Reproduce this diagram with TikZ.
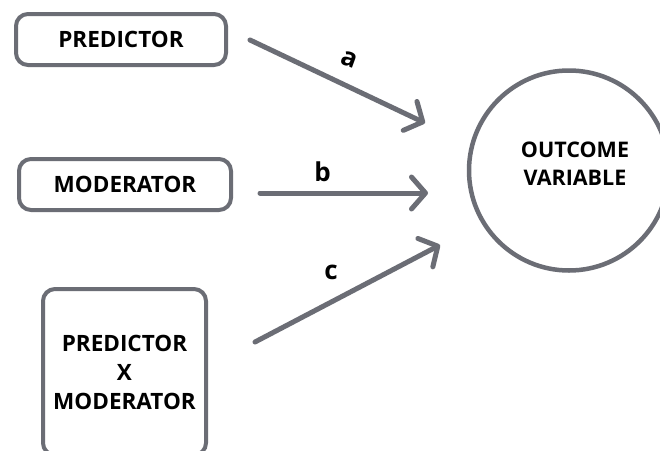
\documentclass[tikz,border=0pt]{standalone}
\usepackage{fontspec}
\setmainfont{Open Sans}
\usetikzlibrary{arrows.meta}
\definecolor{edgegray}{HTML}{6B6D75}
\tikzset{
  boxnode/.style={draw=edgegray, line width=4pt, rounded corners=12pt, fill=white, align=center, font=\fontsize{22.5}{29}\selectfont\bfseries, inner sep=0pt},
  outcomenode/.style={draw=edgegray, line width=4.5pt, circle, fill=white, inner sep=0pt, minimum size=200pt},
  outcometext/.style={align=center, font=\fontsize{21.5}{28}\selectfont\bfseries, inner sep=0pt},
  conn/.style={draw=edgegray, line width=5pt, line cap=round, -{Straight Barb[length=14pt,width=32pt,round]}},
  pathlabel/.style={font=\fontsize{26}{28}\selectfont\bfseries, inner sep=0pt}
}
\begin{document}
\begin{tikzpicture}[x=1pt,y=-1pt]
\useasboundingbox (0,0) rectangle (660,450);
\fill[white] (0,0) rectangle (660,450);
\node[boxnode, minimum width=210pt, minimum height=51pt] (pred) at (121,39.5) {PREDICTOR};
\node[boxnode, minimum width=212pt, minimum height=51pt] (mod) at (125,184.5) {MODERATOR};
\node[boxnode, minimum width=163pt, minimum height=166pt] (inter) at (124.5,372) {PREDICTOR\\X\\MODERATOR};
\node[outcomenode] (out) at (569,170.5) {};
\node[outcometext] (outtext) at (575,164) {OUTCOME\\VARIABLE};
\coordinate (as) at (250,40);
\coordinate (ae) at (425,123);
\coordinate (bs) at (260,193);
\coordinate (be) at (428,193);
\coordinate (cs) at (255,342);
\coordinate (ce) at (440,245);
\draw[conn] (as) -- (ae);
\draw[conn] (bs) -- (be);
\draw[conn] (cs) -- (ce);
\node[pathlabel, rotate=-20] (la) at (349,59) {a};
\node[pathlabel] (lb) at (322.5,172) {b};
\node[pathlabel] (lc) at (331,272.5) {c};
\end{tikzpicture}
\end{document}
